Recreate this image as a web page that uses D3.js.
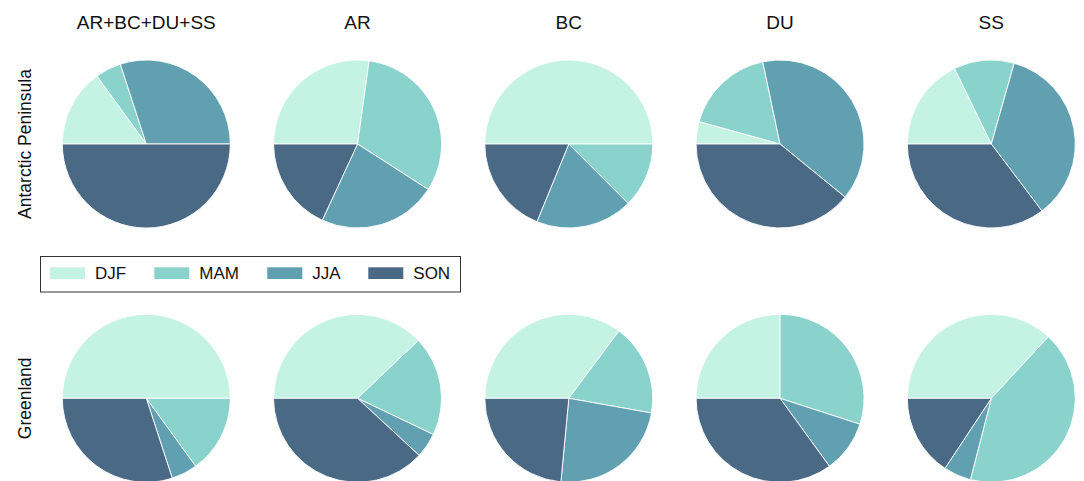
<!DOCTYPE html>
<html>
<head>
<meta charset="utf-8">
<script src="https://cdn.jsdelivr.net/npm/d3@7"></script>
<style>
  body { margin: 0; background: #fff; }
  svg { display: block; font-family: "Liberation Sans", Arial, sans-serif; }
</style>
</head>
<body>
<div id="chart"></div>
<script>
// seasons and colours
const seasons = ["DJF", "MAM", "JJA", "SON"]
const colors = ["#c5f3e3", "#8ad3cc", "#60a0b0", "#4a6985"]
const columns = ["AR+BC+DU+SS", "AR", "BC", "DU", "SS"]
const regions = ["Antarctic Peninsula", "Greenland"]

// share (%) per season, one row per column
const antarctic = [
    [15, 5, 30, 50],
    [27.2, 31.9, 22.8, 18.1],
    [50, 12.5, 18.7, 18.8],
    [4.3, 17.4, 39.2, 39.1],
    [17.8, 11.6, 35.3, 35.3]
]
const greenland = [
    [50, 15, 5, 30],
    [37.9, 19.2, 4.8, 38.1],
    [35.2, 17.6, 23.7, 23.5],
    [25, 30, 10, 35],
    [36.9, 42.1, 5.3, 15.7]
]
const regionValues = [antarctic, greenland]

let width = 1084, height = 481, radius = 84
let svg = d3.select("#chart")
    .append("svg")
    .attr("width", width)
    .attr("height", height)

let x = d3.scalePoint().domain(columns).range([146.3, 991.3])
let y = d3.scalePoint().domain(regions).range([144, 398.3])
let color = d3.scaleOrdinal().domain(seasons).range(colors)

// 从9点钟方向开始顺时针
let pie = d3.pie()
    .sort(null)
    .startAngle(-Math.PI / 2)
    .endAngle(Math.PI * 3 / 2)
let arc = d3.arc().innerRadius(0).outerRadius(radius)

regions.forEach((region, r) => {
    columns.forEach((col, c) => {
        let data = regionValues[r][c].map((v, i) => ({ season: seasons[i], value: v }))
        let g = svg.append("g")
            .attr("transform", `translate(${x(col)},${y(region)})`)
        g.selectAll("path")
            .data(pie.value(d => d.value)(data))
            .enter()
            .append("path")
            .attr("d", arc)
            .attr("fill", d => color(d.data.season))
            .attr("stroke", "#fff")
            .attr("stroke-width", 0.9)
            .attr("stroke-linejoin", "round")
    })
    svg.append("text")
        .attr("transform", `translate(30.5,${y(region)}) rotate(-90)`)
        .attr("text-anchor", "middle")
        .attr("font-size", 17.5)
        .attr("fill", "#111")
        .text(region)
})

// 列标题
svg.selectAll(".col-title")
    .data(columns)
    .enter()
    .append("text")
    .attr("class", "col-title")
    .attr("x", d => x(d))
    .attr("y", 28.7)
    .attr("text-anchor", "middle")
    .attr("font-size", 19)
    .attr("fill", "#111")
    .text(d => d)

// 图例
let legend = svg.append("g")
svg.append("rect")
    .attr("x", 40.5)
    .attr("y", 256.5)
    .attr("width", 420)
    .attr("height", 35.5)
    .attr("fill", "none")
    .attr("stroke", "#333")
    .attr("stroke-width", 1)
let legendX = [50, 154.3, 267.3, 368.3]
let item = legend.selectAll("g")
    .data(seasons)
    .enter()
    .append("g")
    .attr("transform", (d, i) => `translate(${legendX[i]},267.3)`)
item.append("rect")
    .attr("width", 35)
    .attr("height", 11.7)
    .attr("fill", d => color(d))
item.append("text")
    .attr("x", 45)
    .attr("y", 12)
    .attr("font-size", 17)
    .attr("fill", "#111")
    .text(d => d)
</script>
</body>
</html>
